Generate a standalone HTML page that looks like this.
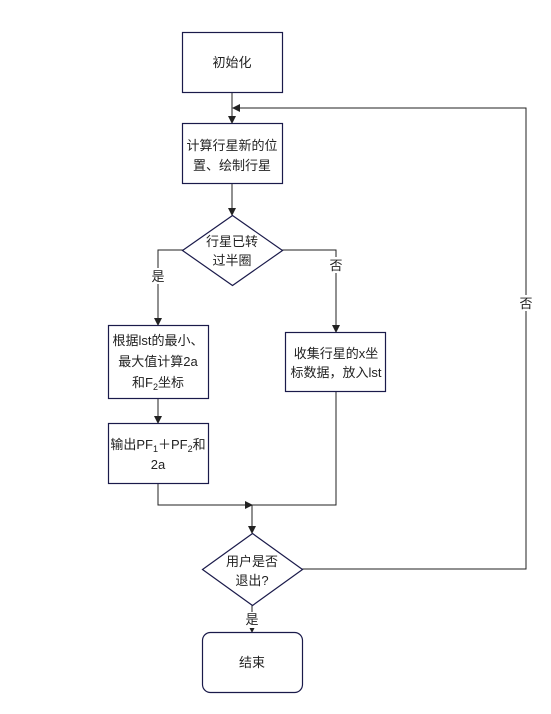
<!DOCTYPE html>
<html><head><meta charset="utf-8"><style>
html,body{margin:0;padding:0;background:#fff;}
svg{display:block;}
text{font-family:"Liberation Sans","Noto Sans CJK SC",sans-serif;font-size:13px;fill:#222;}
</style></head><body>
<svg width="551" height="714" viewBox="0 0 551 714" xmlns="http://www.w3.org/2000/svg">
<defs><marker id="a" markerWidth="8" markerHeight="8" refX="7" refY="4" orient="auto" markerUnits="userSpaceOnUse"><path d="M0,0 L8,4 L0,8 z" fill="#222"/></marker></defs>
<g fill="none" stroke="#222" stroke-width="1">
<path d="M232,92 V123" marker-end="url(#a)"/>
<path d="M302,569 H526 V108 H233" marker-end="url(#a)"/>
<path d="M232,183 V215" marker-end="url(#a)"/>
<path d="M183,250 H158 V325" marker-end="url(#a)"/>
<path d="M282,250 H336 V332" marker-end="url(#a)"/>
<path d="M158,398 V423" marker-end="url(#a)"/>
<path d="M158,483 V505 H252" marker-end="url(#a)"/>
<path d="M336,391 V505 H252 V533" marker-end="url(#a)"/>
<path d="M252,605 V632" marker-end="url(#a)"/>
</g>
<g fill="#fff" stroke="#1a1a4a" stroke-width="1.2">
<rect x="182.5" y="32.5" width="100" height="60"/>
<rect x="182.5" y="123.5" width="100" height="60"/>
<path d="M232.5,215.5 L282.5,250.5 L232.5,285.5 L182.5,250.5 Z"/>
<rect x="108.5" y="325.5" width="100" height="73"/>
<rect x="108.5" y="423.5" width="100" height="60"/>
<rect x="285.5" y="332.5" width="100" height="59"/>
<path d="M252.5,533.5 L302.5,569.5 L252.5,605.5 L202.5,569.5 Z"/>
<rect x="202.5" y="632.5" width="100" height="60" rx="8"/>
</g>
<rect x="520" y="295" width="12" height="16" fill="#fff"/>
<rect x="150" y="268" width="16" height="16" fill="#fff"/>
<rect x="328" y="257" width="16" height="16" fill="#fff"/>
<rect x="245" y="612" width="16" height="16" fill="#fff"/>
<g text-anchor="middle">
<text x="232" y="67">初始化</text>
<text x="232" y="150">计算行星新的位</text>
<text x="232" y="170">置、绘制行星</text>
<text x="232" y="246">行星已转</text>
<text x="232" y="265">过半圈</text>
<text x="158" y="281">是</text>
<text x="336" y="270">否</text>
<text x="158" y="345">根据lst的最小、</text>
<text x="158" y="366">最大值计算2a</text>
<text x="158" y="387">和F<tspan font-size="9" dy="3">2</tspan><tspan dy="-3">坐标</tspan></text>
<text x="158" y="449">输出PF<tspan font-size="9" dy="3">1</tspan><tspan dy="-3">＋PF</tspan><tspan font-size="9" dy="3">2</tspan><tspan dy="-3">和</tspan></text>
<text x="158" y="469">2a</text>
<text x="336" y="358">收集行星的x坐</text>
<text x="336" y="377">标数据，放入lst</text>
<text x="252" y="566">用户是否</text>
<text x="252" y="585">退出?</text>
<text x="252" y="624">是</text>
<text x="252" y="667">结束</text>
<text x="526" y="308">否</text>
</g>
</svg>
</body></html>
